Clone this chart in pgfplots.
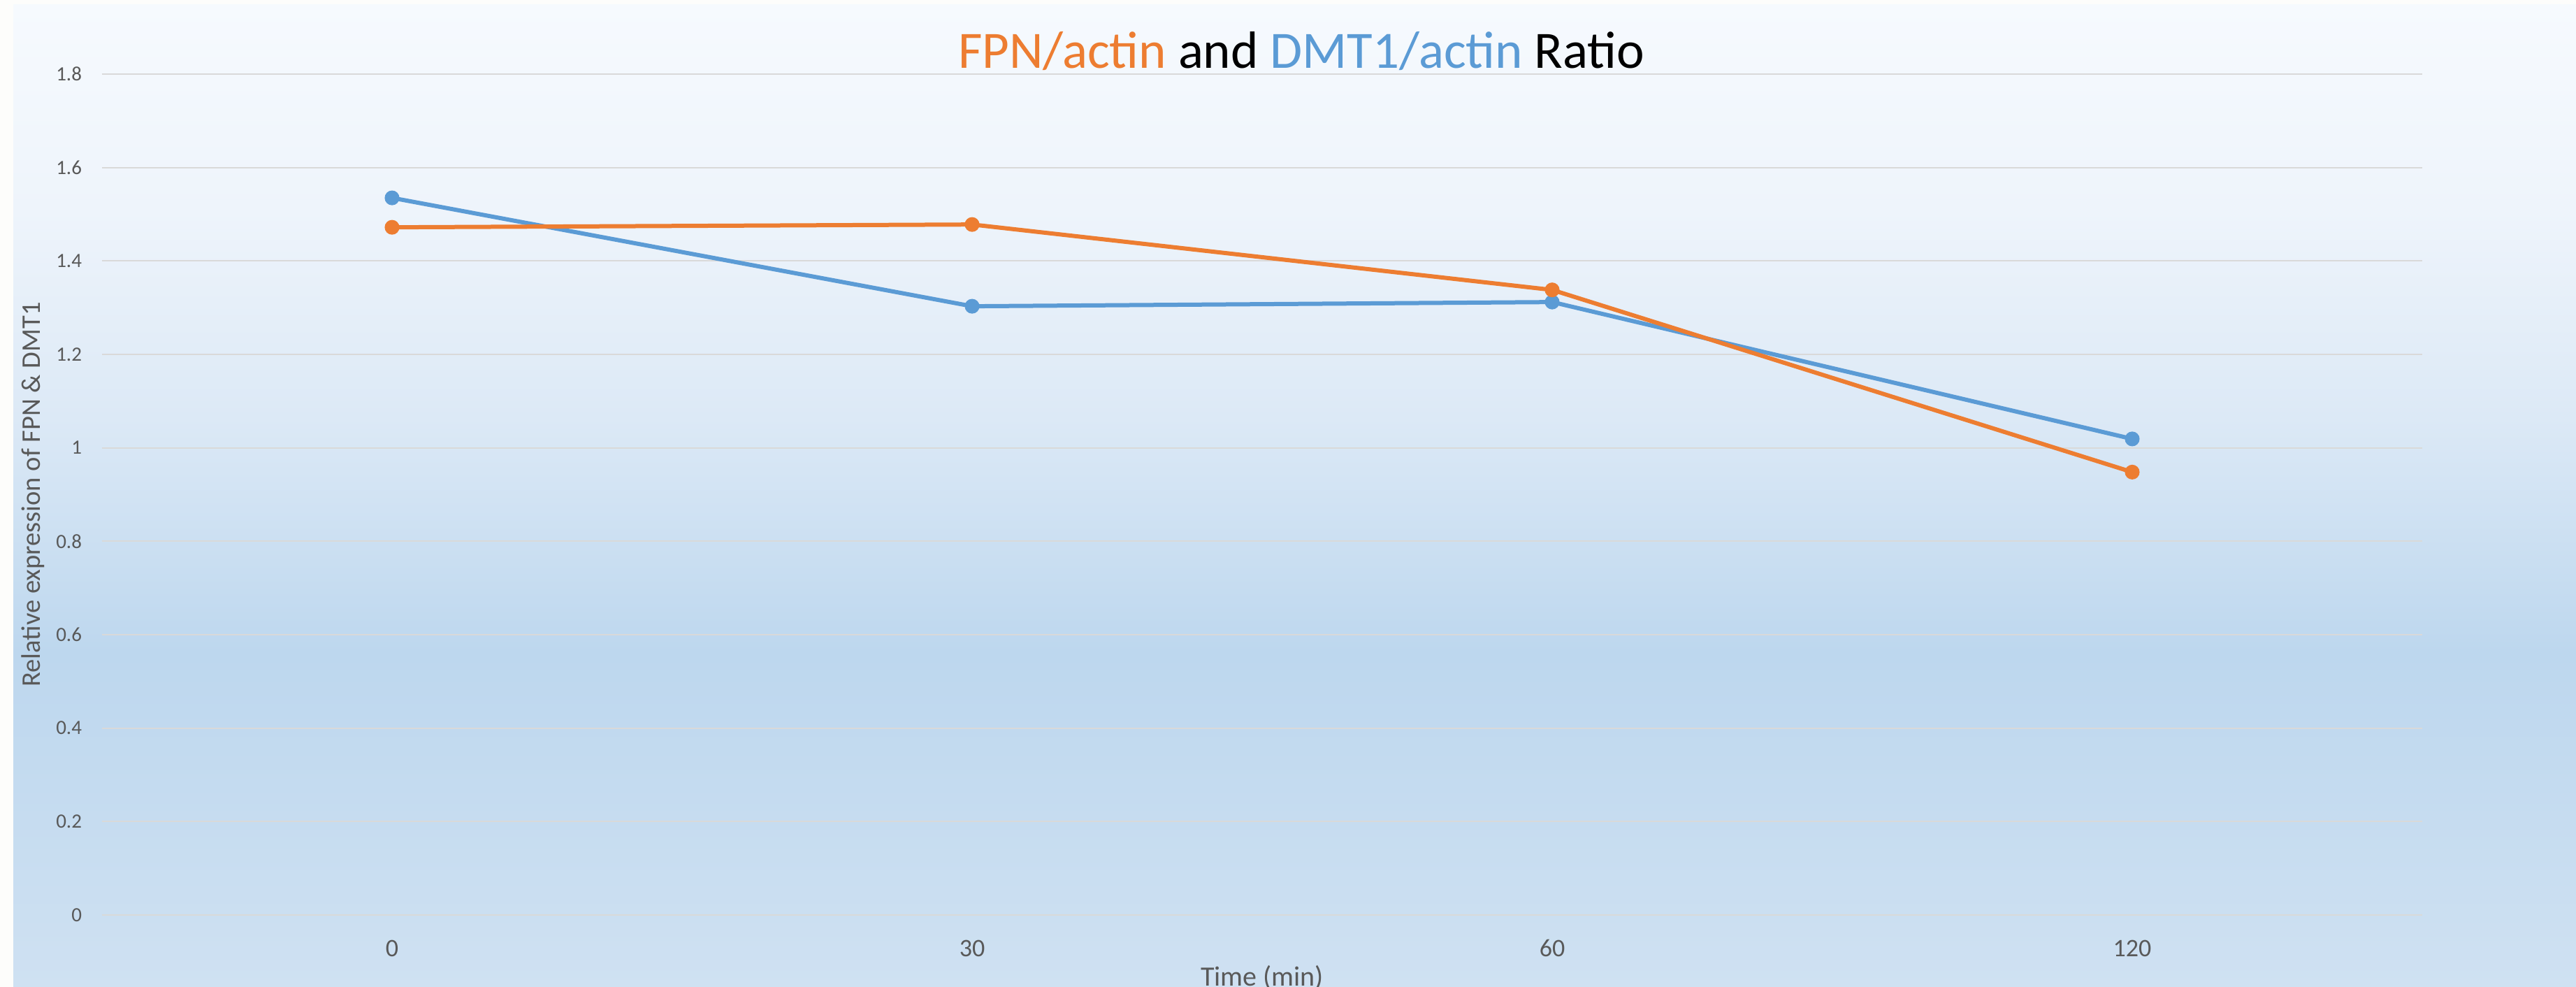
\documentclass[border=0pt]{standalone}
\usepackage{pgfplots}
\pgfplotsset{compat=1.18}
\usepackage{fontspec}
\setmainfont{Carlito}
\definecolor{forange}{HTML}{ED7D31}
\definecolor{fblue}{HTML}{5B9BD5}
\definecolor{gridc}{HTML}{D9D9D9}
\definecolor{tickc}{HTML}{595959}
\definecolor{cbot}{HTML}{CFE1F2}
\definecolor{cdark}{HTML}{BDD7EE}
\definecolor{cmid}{HTML}{DCE9F6}
\definecolor{cup}{HTML}{EEF4FB}
\definecolor{ctop}{HTML}{F6FAFE}
\definecolor{cstrip}{HTML}{FDFDFB}
\pgfdeclareverticalshading{bgsh}{100bp}{color(0bp)=(cbot); color(25bp)=(cbot); color(42bp)=(cdark); color(54bp)=(cmid); color(64.5bp)=(cup); color(75bp)=(ctop); color(100bp)=(ctop)}
\begin{document}
\begin{tikzpicture}
\path[use as bounding box] (0pt,0pt) rectangle (737.2pt,282.4pt);
\fill[cstrip] (0pt,0pt) rectangle (737.2pt,282.4pt);
\shade[shading=bgsh] (3.8pt,0pt) rectangle (737.2pt,281.0pt);
\begin{axis}[
  at={(29.2pt,20.6pt)}, anchor=south west,
  width=664pt, height=240.6pt, scale only axis,
  xmin=-0.5, xmax=3.5, ymin=0, ymax=1.8,
  xtick={0,1,2,3}, xticklabels={0,30,60,120},
  ytick={0,0.2,0.4,0.6,0.8,1,1.2,1.4,1.6,1.8},
  axis line style={draw=none},
  major tick length=0pt,
  ymajorgrids, grid style={gridc, line width=0.45pt},
  /pgf/number format/assume math mode=true,
  yticklabel style={font=\fontsize{5.8}{6}\selectfont, text=tickc, anchor=east, inner sep=0pt, xshift=-5.6pt},
  xticklabel style={font=\fontsize{7.2}{8}\selectfont, text=tickc, anchor=base, inner sep=0pt, yshift=-12pt},
  xlabel={Time (min)},
  xlabel style={font=\fontsize{8}{9}\selectfont, text=tickc, at={(axis description cs:0.5,-0.0848)}, anchor=base, inner sep=0pt},
  ylabel={Relative expression of FPN \& DMT1},
  ylabel style={font=\fontsize{7.7}{9}\selectfont, text=tickc, at={(axis description cs:-0.0298,0.5)}, anchor=center, inner sep=0pt},
  title={\textcolor{forange}{FPN/actin} and \textcolor{fblue}{DMT1/actin} Ratio},
  title style={font=\fontsize{15}{18}\selectfont, text=black, at={(axis description cs:0.5169,0.9818)}, anchor=base, inner sep=0pt},
  clip=false,
]
\addplot[fblue, line width=1.2pt, mark=*, mark size=1.5pt, mark options={fill=fblue, draw=fblue}] coordinates {(0,1.535) (1,1.303) (2,1.312) (3,1.019)};
\addplot[forange, line width=1.2pt, mark=*, mark size=1.5pt, mark options={fill=forange, draw=forange}] coordinates {(0,1.472) (1,1.478) (2,1.338) (3,0.948)};
\end{axis}
\end{tikzpicture}
\end{document}
